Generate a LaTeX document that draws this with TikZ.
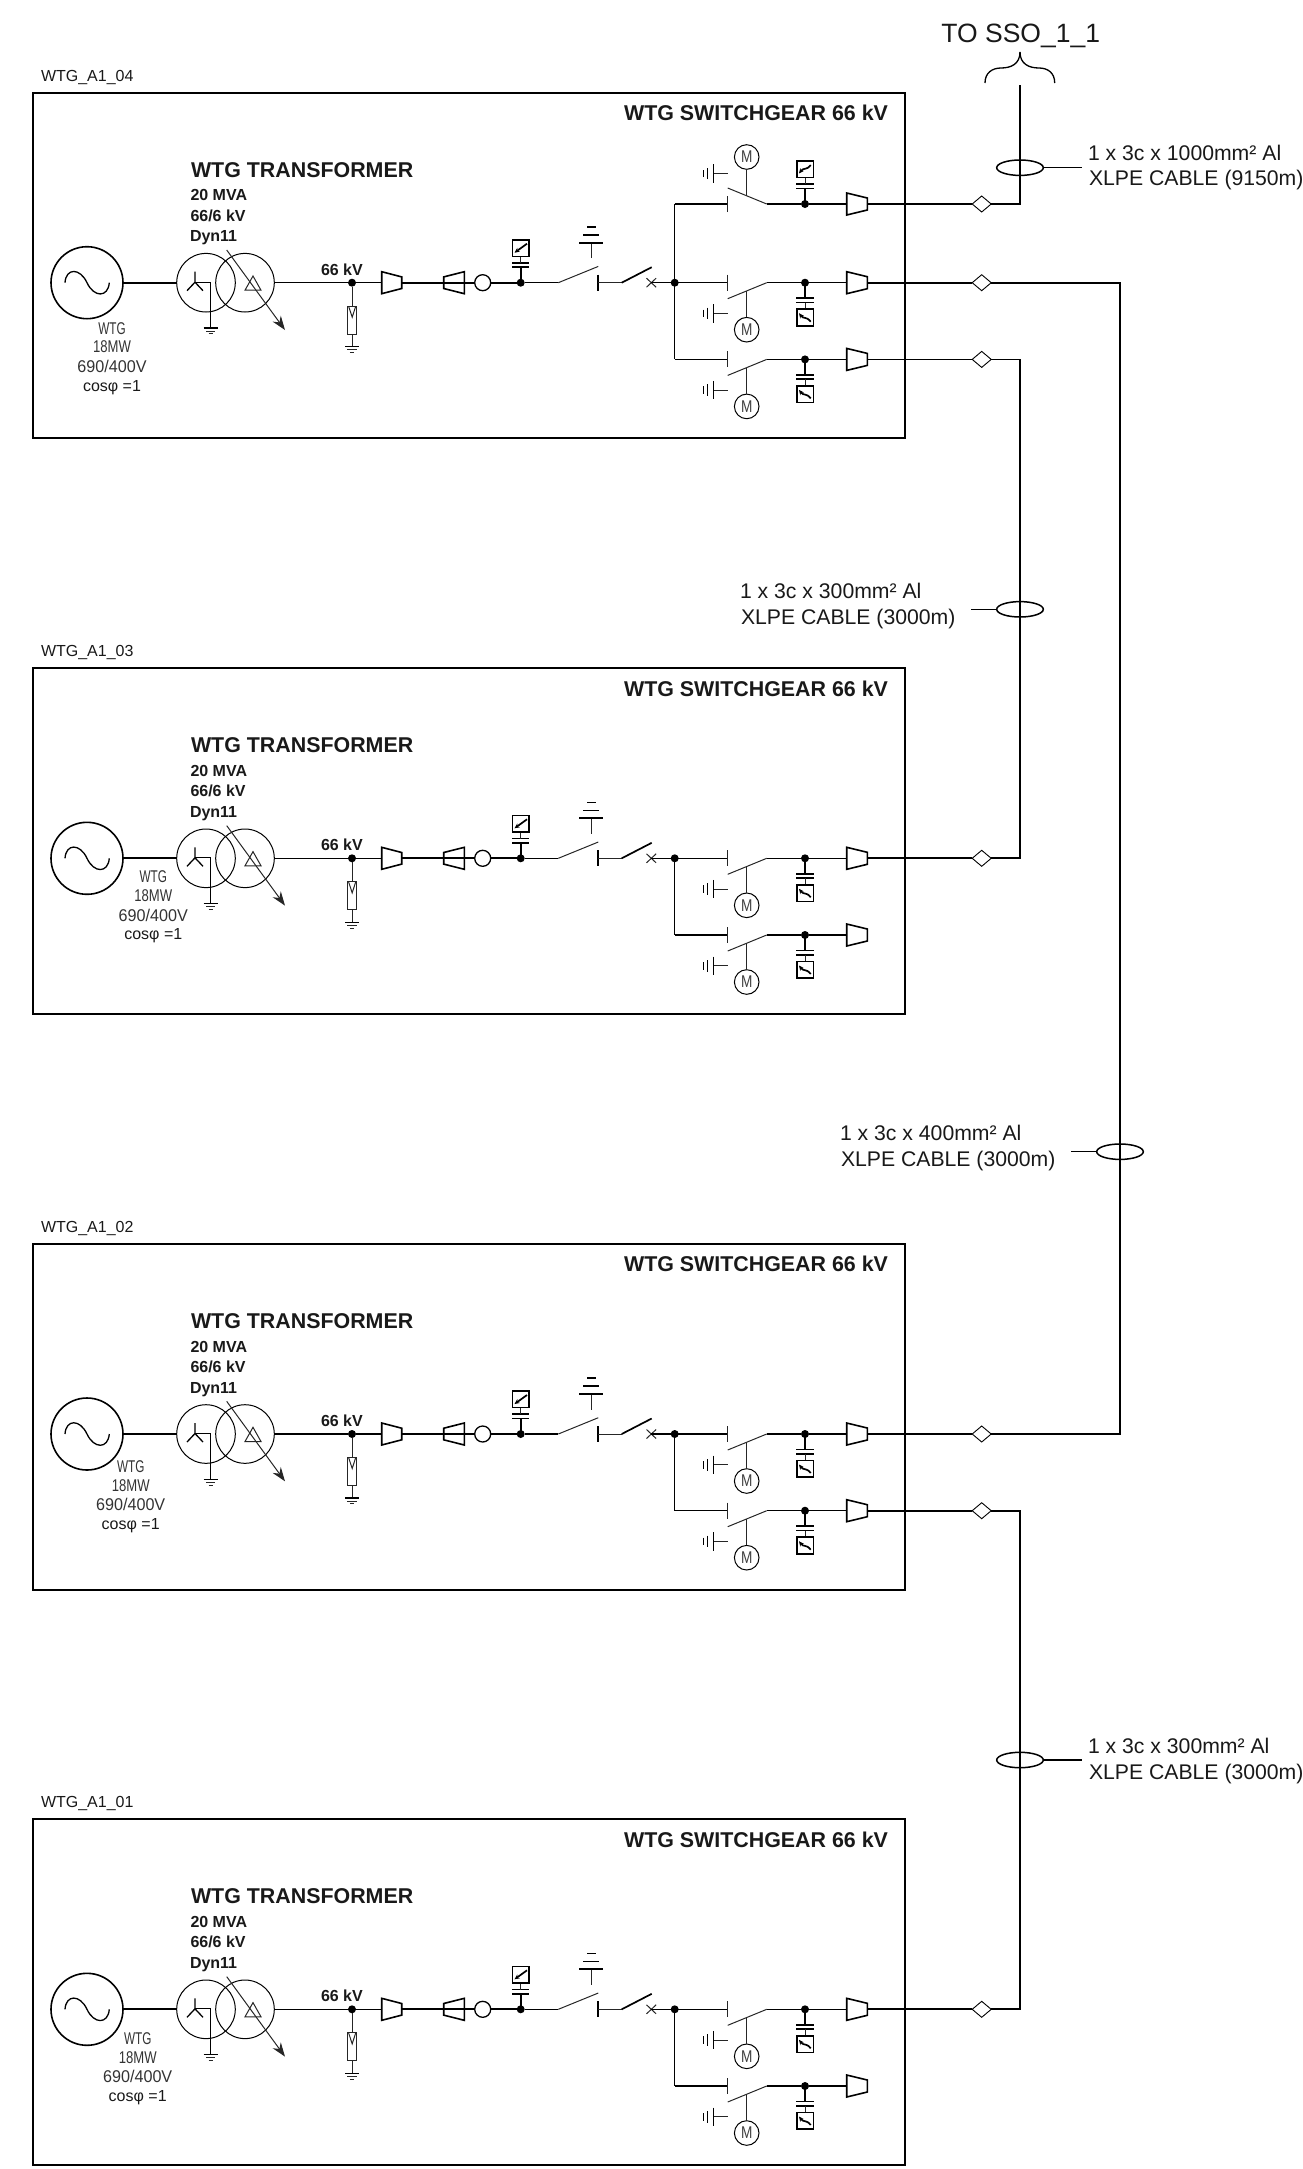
\documentclass[tikz,border=0pt]{standalone}
\usepackage{fontspec}
\setmainfont{Liberation Sans}
\usetikzlibrary{shapes.geometric,arrows.meta}
\tikzset{
  thn/.style={line width=1pt,draw=black!85},
  med/.style={line width=1.3pt,draw=black},
  thk/.style={line width=1.7pt,draw=black},
  frame/.style={line width=1.9pt,draw=black},
  ring/.style={circle,inner sep=0,outer sep=0,draw=black},
  gencirc/.style={ring,line width=1.6pt,minimum size=72pt},
  tracirc/.style={ring,line width=1pt,minimum size=58.6pt},
  motor/.style={ring,line width=1pt,minimum size=24.6pt,fill=white},
  ct/.style={ring,line width=1.3pt,minimum size=16pt,fill=white},
  fdot/.style={circle,inner sep=0,outer sep=0,fill=black,minimum size=8pt},
  gland/.style={diamond,inner sep=0,outer sep=0,draw=black,line width=0.9pt,fill=white,minimum width=19pt,minimum height=16pt},
  tie/.style={ellipse,inner sep=0,outer sep=0,draw=black,line width=1.5pt,minimum width=46.6pt,minimum height=15.4pt},
  term/.style={line width=1.6pt,draw=black,fill=white,line join=miter},
  glyph/.style={line width=1.7pt,-{Stealth[length=5pt,width=4.5pt]}},
  txt/.style={inner sep=0,outer sep=0,anchor=base west,text=black!90},
  bigbold/.style={txt,font=\fontsize{21.4}{24}\selectfont\bfseries},
  smallbold/.style={txt,font=\fontsize{16}{18}\selectfont\bfseries},
  plainlbl/.style={txt,font=\fontsize{16}{18}\selectfont},
  cab/.style={txt,font=\fontsize{21.2}{24}\selectfont},
  narrow/.style={inner sep=0,outer sep=0,anchor=base,text=black!80,font=\fontsize{17}{19}\selectfont},
  mtxt/.style={inner sep=0,outer sep=0,text=black!75,font=\fontsize{17}{19}\selectfont,xscale=0.8},
}
\newcommand\gndsym[2]{%
  \draw[med] ({#1-7},#2) -- ({#1+7},#2);
  \draw[thn] ({#1-4.7},{#2+3}) -- ({#1+4.7},{#2+3});
  \draw[thn] ({#1-2.2},{#2+5.8}) -- ({#1+2.2},{#2+5.8});
}
% capacitor and measuring box, drawn downward from (#1,0) with the local y axis
\newcommand\capbox[1]{%
  \draw[thk] (#1,0) -- (#1,15.5);
  \draw[thk] ({#1-8.7},15.5) -- ({#1+8.7},15.5);
  \draw[thk] ({#1-8.7},19.8) -- ({#1+8.7},19.8);
  \draw[thn] (#1,19.8) -- (#1,26.4);
  \draw[line width=1.6pt,draw=black] ({#1-8.3},26.4) rectangle ({#1+8.3},43);
}
\newcommand\wtgfeeder[3]{%
 \begin{scope}[shift={(0,#2)},yscale=#3,name prefix=#1]
  \coordinate (src) at (674.7,0);
  \coordinate (bar) at (727.7,0);
  \coordinate (pivot) at (766.7,0);
  \coordinate (tip) at (727.7,16);
  \coordinate (stem) at (746.7,8.3);
  \coordinate (te) at (867.3,0);
  \coordinate (earth) at (713.3,30.7);
  \node[fdot] (dot) at (805,0) {};
  \node[motor] (mot) at (746.7,47) {};
  \node[mtxt] (motm) at (mot) {M};
  \draw[med] (src) -- (bar);
  \draw[thn] (727.7,-8) -- (727.7,8);
  \draw[thn] (tip) -- (pivot);
  \draw[med] (pivot) -- (dot) -- (846.7,0);
  \draw[thn] (stem) -- (mot);
  \draw[thn] (earth) -- (727.7,30.7);
  \draw[med] (713.3,21.5) -- (713.3,40);
  \draw[med] (707.7,25) -- (707.7,36.5);
  \draw[med] (703.3,27) -- (703.3,34.5);
  \capbox{805}
  \draw[glyph] (810.7,39) .. controls (806,33) and (804,37) .. (799,30.5);
  \draw[term] (846.7,-11) -- (867.3,-6) -- (867.3,6) -- (846.7,11) -- cycle;
 \end{scope}
}
\newcommand\wtgpanel[5]{%
 \begin{scope}[shift={(0,#2)},name prefix=#1-]
  \draw[frame] (33,-190) rectangle (905,155.7);
  \node[plainlbl] (name) at (41,-201.7) {#3};
  \node[bigbold,anchor=base east] (sg) at (888,-162.3) {WTG SWITCHGEAR 66 kV};
  \node[bigbold] (tt) at (191,-105.4) {WTG TRANSFORMER};
  \node[smallbold] (t1) at (190.5,-82) {20 MVA};
  \node[smallbold] (t2) at (190.5,-61.4) {66/6 kV};
  \node[smallbold] (t3) at (190,-41) {Dyn11};
  \node[smallbold] (kv) at (321,-7.4) {66 kV};
  \node[narrow,xscale=0.69] (g1) at (#4,#5) {WTG};
  \node[narrow,xscale=0.77] (g2) at (#4,{#5+18.7}) {18MW};
  \node[narrow,xscale=0.95] (g3) at (#4,{#5+38.4}) {690/400V};
  \node[plainlbl,anchor=base] (g4) at (#4,{#5+57}) {cosφ =1};
  % generator and transformer
  \node[gencirc] (gen) at (87,0) {};
  \draw[med] (65,0) .. controls (66,-15) and (80,-15) .. (87,0) .. controls (94,15) and (108,15) .. (109.3,0);
  \node[tracirc] (tra) at (206,0) {};
  \node[tracirc] (trb) at (245,0) {};
  \draw[thk] (gen) -- (tra);
  \coordinate (star) at (195,-0.5);
  \coordinate (neu) at (210.7,-0.5);
  \coordinate (gnda) at (210.7,45.3);
  \draw[med] (195,-11) -- (star) -- (187,8);
  \draw[med] (star) -- (203,8);
  \draw[med] (star) -- (neu) -- (gnda);
  \gndsym{210.7}{45.3}
  \draw[thn] (245,7.5) -- (261,7.5) -- (253,-6.7) -- cycle;
  \draw[thn,-{Stealth[length=14pt,width=10pt]}] (226.7,-32.7) -- (285,47.3);
  % 66 kV node and surge branch
  \node[fdot] (hv) at (352,0) {};
  \draw[med] (trb) -- (hv);
  \coordinate (sa) at (352,23.3);
  \coordinate (sb) at (352,51.3);
  \draw[thn] (hv) -- (sa);
  \draw[thn] (347.9,23.3) rectangle (356.4,51.3);
  \draw[thn] (348.6,23.6) -- (352.2,34.5) -- (355.7,23.6);
  \draw[thn] (sb) -- (352,64);
  \gndsym{352}{64}
  % cable ends and current transformer
  \node[ct] (ctr) at (482.7,0) {};
  \node[fdot] (vt) at (520.7,0) {};
  \draw[med] (hv) -- (381.7,0);
  \draw[term] (381.7,-11) -- (401.7,-5.8) -- (401.7,5.8) -- (381.7,11) -- cycle;
  \draw[term] (464.3,-11) -- (443.7,-5.8) -- (443.7,5.8) -- (464.3,11) -- cycle;
  \draw[thk] (401.7,0) -- (ctr);
  \draw[thk] (ctr) -- (vt);
  \begin{scope}[yscale=-1]\capbox{520.7}\end{scope}
  \draw[glyph] (527,-39) -- (514.5,-30);
  % disconnector with earth
  \coordinate (d1) at (558.3,0);
  \coordinate (d2) at (598.3,-16.3);
  \coordinate (d3) at (598,0);
  \draw[med] (vt) -- (d1);
  \draw[thn] (d1) -- (d2);
  \draw[med] (598,-8) -- (598,8);
  \draw[thn] (591,-24.5) -- (591,-40);
  \draw[thk] (579.3,-40) -- (603.3,-40);
  \draw[thk] (583,-47.7) -- (599,-47.7);
  \draw[thk] (587.3,-55.7) -- (595.7,-55.7);
  % circuit breaker
  \coordinate (b1) at (621.7,0);
  \coordinate (b2) at (651.7,-15.5);
  \coordinate (bx) at (651.3,0);
  \draw[thn] (d3) -- (b1);
  \draw[thk] (b1) -- (b2);
  \draw[thn] (646.5,-4.5) -- (656.1,4.5);
  \draw[thn] (646.5,4.5) -- (656.1,-4.5);
  \node[fdot] (bus) at (674.7,0) {};
  \draw[med] (bx) -- (bus);
 \end{scope}
}
\begin{document}
\begin{tikzpicture}[x=1pt,y=-1pt]
\useasboundingbox (0,0) rectangle (1303,2169);
% panels
\wtgpanel{p1}{282.7}{WTG\_A1\_04}{112}{51.3}
\wtgfeeder{p1-f1-}{204}{-1}
\wtgfeeder{p1-f2-}{282.7}{1}
\wtgfeeder{p1-f3-}{359.4}{1}
\draw[med] (p1-f1-src) -- (p1-f3-src);
\wtgpanel{p2}{858.3}{WTG\_A1\_03}{153.3}{24.3}
\wtgfeeder{p2-f1-}{858.3}{1}
\wtgfeeder{p2-f2-}{935}{1}
\draw[med] (p2-f1-src) -- (p2-f2-src);
\wtgpanel{p3}{1434}{WTG\_A1\_02}{130.7}{38.3}
\wtgfeeder{p3-f1-}{1434}{1}
\wtgfeeder{p3-f2-}{1510.7}{1}
\draw[med] (p3-f1-src) -- (p3-f2-src);
\wtgpanel{p4}{2009.3}{WTG\_A1\_01}{137.7}{35}
\wtgfeeder{p4-f1-}{2009.3}{1}
\wtgfeeder{p4-f2-}{2086}{1}
\draw[med] (p4-f1-src) -- (p4-f2-src);
% glands
\node[gland] (d11) at (981.7,204) {};
\node[gland] (d12) at (981.7,282.7) {};
\node[gland] (d13) at (981.7,359.4) {};
\node[gland] (d21) at (981.7,858.3) {};
\node[gland] (d31) at (981.7,1434) {};
\node[gland] (d32) at (981.7,1510.7) {};
\node[gland] (d41) at (981.7,2009.3) {};
% route corners
\coordinate (out) at (1020,84.7);
\coordinate (c11) at (1020,204);
\coordinate (c12) at (1120,282.7);
\coordinate (c13) at (1020,359.4);
\coordinate (c21) at (1020,858.3);
\coordinate (c31) at (1120,1434);
\coordinate (c32) at (1020,1510.7);
\coordinate (c41) at (1020,2009.3);
\draw[thk] (p1-f1-te) -- (d11);
\draw[thk] (p1-f2-te) -- (d12);
\draw[thk] (p1-f3-te) -- (d13);
\draw[thk] (p2-f1-te) -- (d21);
\draw[thk] (p3-f1-te) -- (d31);
\draw[thk] (p3-f2-te) -- (d32);
\draw[thk] (p4-f1-te) -- (d41);
\draw[thk] (d11) -- (c11) -- (out);
\draw[thk] (d12) -- (c12) -- (c31) -- (d31);
\draw[thk] (d13) -- (c13) -- (c21) -- (d21);
\draw[thk] (d32) -- (c32) -- (c41) -- (d41);
% top brace and label
\node[inner sep=0,outer sep=0,anchor=base,font=\fontsize{26.5}{28}\selectfont,text=black!90] (sso) at (1020.7,42.5) {TO SSO\_1\_1};
\coordinate (bt) at (1020,52);
\draw[med] (985,83) .. controls (985,73) and (992,68) .. (1001,68) .. controls (1011,68) and (1020,64) .. (bt);
\draw[med] (1054.7,83) .. controls (1054.7,73) and (1048,68) .. (1039,68) .. controls (1029,68) and (1020,64) .. (bt);
% cable ties and labels
\node[tie] (e1) at (1020,167.7) {};
\coordinate (l1) at (1082,167.7);
\draw[med] (e1) -- (l1);
\node[cab] (t1a) at (1088,160) {1 x 3c x 1000mm² Al};
\node[cab] (t1b) at (1089,185.7) {XLPE CABLE (9150m)};
\node[tie] (e2) at (1020,609.3) {};
\coordinate (l2) at (970.7,609.3);
\draw[med] (e2) -- (l2);
\node[cab] (t2a) at (740,598.3) {1 x 3c x 300mm² Al};
\node[cab] (t2b) at (741,624.3) {XLPE CABLE (3000m)};
\node[tie] (e3) at (1120,1151.7) {};
\coordinate (l3) at (1071,1151.7);
\draw[med] (e3) -- (l3);
\node[cab] (t3a) at (840,1140.7) {1 x 3c x 400mm² Al};
\node[cab] (t3b) at (841,1166.7) {XLPE CABLE (3000m)};
\node[tie] (e4) at (1020,1760) {};
\coordinate (l4) at (1081.7,1760);
\draw[med] (e4) -- (l4);
\node[cab] (t4a) at (1088,1753.3) {1 x 3c x 300mm² Al};
\node[cab] (t4b) at (1089,1779.3) {XLPE CABLE (3000m)};
\end{tikzpicture}
\end{document}
